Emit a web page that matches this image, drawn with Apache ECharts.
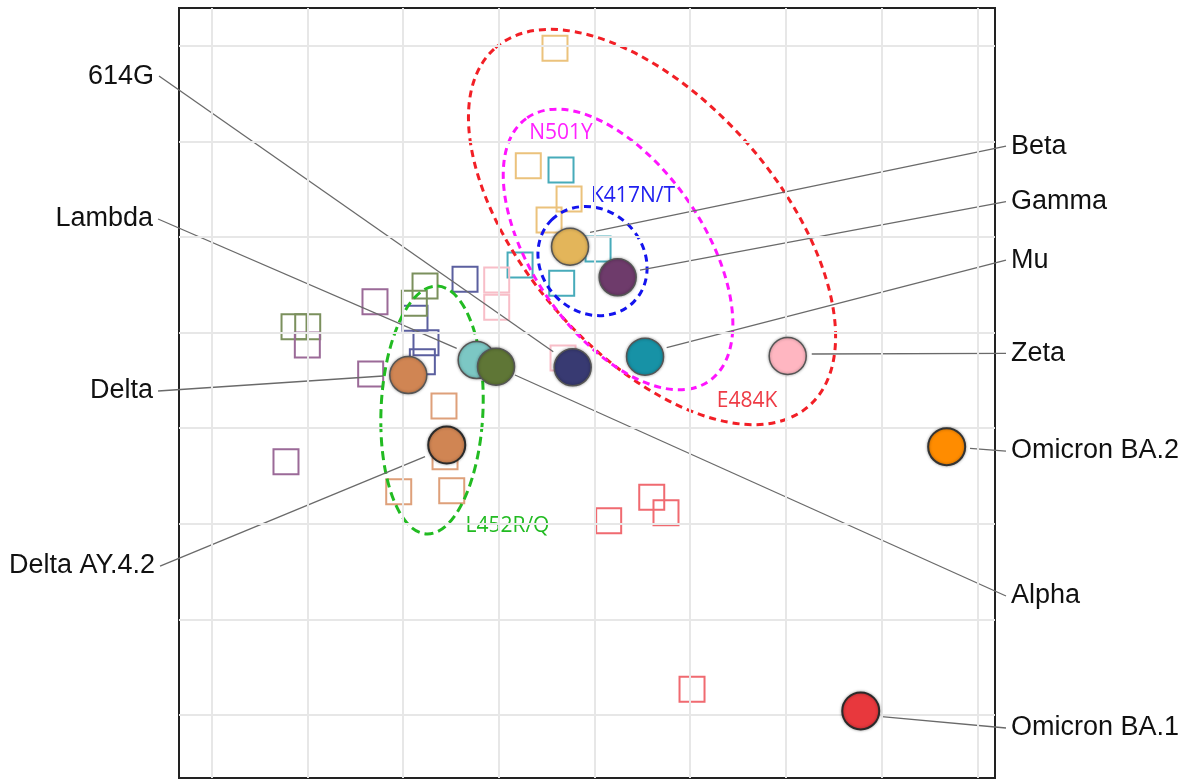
<!DOCTYPE html>
<html>
<head>
<meta charset="utf-8">
<title>Antigenic map</title>
<script src="https://cdn.jsdelivr.net/npm/echarts@6/dist/echarts.min.js"></script>
<style>
  html, body { margin: 0; padding: 0; background: #ffffff; }
  #chart { width: 1191px; height: 779px; }
</style>
</head>
<body>
<div id="chart"></div>
<script>
// ---- Antigen positions (map units, one grid square = 1 unit) ----
const antigenNames = ['Lambda', 'Alpha', '614G', 'Beta', 'Gamma', 'Mu', 'Zeta', 'Delta', 'Delta AY.4.2', 'Omicron BA.2', 'Omicron BA.1'];
const antigenX = [2.769, 2.971, 3.772, 3.744, 4.242, 4.528, 6.019, 2.054, 2.456, 7.680, 6.782];
const antigenY = [3.713, 3.643, 3.637, 4.898, 4.578, 3.748, 3.755, 3.556, 2.824, 2.806, 0.042];

// ---- Name labels: where each leader starts (label side) and ends (near the antigen) ----
const labelSide = ['left', 'right', 'left', 'right', 'right', 'right', 'right', 'left', 'left', 'right', 'right'];
const labelX = [-0.561, 8.300, -0.551, 8.300, 8.300, 8.300, 8.300, -0.561, -0.540, 8.300, 8.300];
const labelY = [5.188, 1.245, 6.683, 5.951, 5.369, 4.758, 3.783, 3.389, 1.558, 2.761, -0.136];
const leaderEndX = [2.560, 3.169, 3.569, 3.953, 4.475, 4.754, 6.270, 1.790, 2.229, 7.924, 7.001];
const leaderEndY = [3.835, 3.556, 3.800, 5.049, 4.654, 3.842, 3.776, 3.546, 2.702, 2.789, -0.018];

// ---- Serum positions, tagged with the antigen each serum was raised against ----
const seraGroup = [
  'Beta', 'Beta', 'Beta', 'Beta',
  'Mu', 'Mu', 'Mu', 'Mu',
  'Zeta', 'Zeta', 'Zeta',
  '614G', '614G', '614G', '614G',
  'Alpha', 'Alpha', 'Alpha', 'Alpha',
  'Gamma', 'Gamma', 'Gamma', 'Gamma',
  'Delta', 'Delta', 'Delta', 'Delta',
  'Omicron BA.1', 'Omicron BA.1', 'Omicron BA.1', 'Omicron BA.1'
];
const seraX = [
  3.587, 3.308, 3.734, 3.525,
  3.650, 4.037, 3.222, 3.657,
  2.978, 2.978, 3.671,
  2.647, 2.124, 2.239, 2.201,
  2.229, 2.117, 0.860, 1.003,
  1.706, 0.999, 1.661, 0.776,
  2.427, 2.438, 1.954, 2.508,
  4.598, 4.747, 4.148, 5.019
];
const seraY = [
  6.973, 5.745, 5.397, 5.177,
  5.700, 4.874, 4.707, 4.515,
  4.550, 4.264, 3.734,
  4.557, 4.149, 3.894, 3.695,
  4.487, 4.306, 4.061, 4.061,
  4.323, 3.870, 3.567, 2.649,
  3.232, 2.702, 2.336, 2.346,
  2.277, 2.116, 2.032, 0.269
];

// ---- Mutation clusters: ellipse centre, semi-axes (units) and tilt (deg, clockwise) ----
const clusterNames = ['E484K', 'N501Y', 'K417N/T', 'L452R/Q'];
const clusterCX = [4.601, 4.246, 3.979, 2.302];
const clusterCY = [5.104, 4.869, 4.748, 3.190];
const clusterRA = [2.487, 1.672, 0.606, 1.296];
const clusterRB = [1.327, 0.892, 0.533, 0.533];
const clusterTilt = [48.8, 55.4, 45, 92.5];
const clusterLabelX = [5.594, 3.650, 4.402, 3.090];
const clusterLabelY = [3.284, 6.087, 5.428, 1.977];

// ---- Grid line values ----
const gridLinesX = [0, 1, 2, 3, 4, 5, 6, 7, 8];
const gridLinesY = [0, 1, 2, 3, 4, 5, 6, 7];

// ---- Styles ----
const antigenFill = {
  'Lambda': '#7cc7c4', 'Alpha': '#5f7636', '614G': '#383a72', 'Beta': '#e3b55a',
  'Gamma': '#6e3b6b', 'Mu': '#1792a6', 'Zeta': '#ffb6c1', 'Delta': '#d08553',
  'Delta AY.4.2': '#d08553', 'Omicron BA.2': '#ff8c00', 'Omicron BA.1': '#e8383d'
};
const antigenBorder = {
  'Delta AY.4.2': '#2a2a2a', 'Omicron BA.2': '#333333', 'Omicron BA.1': '#2a2a2a'
};
const seraColor = {
  'Beta': '#ebc27c', 'Mu': '#47abba', 'Zeta': '#f8bec8', '614G': '#5b5f9f',
  'Alpha': '#7b905d', 'Gamma': '#9b6a98', 'Delta': '#dea07a', 'Omicron BA.1': '#f06a70'
};
const clusterStroke = ['#f21f26', '#ff14ff', '#1414ee', '#22bb22'];
const clusterText = ['#ee3b45', '#ff22ff', '#2020f0', '#22bb22'];
const clusterDash = [[7, 5], [7, 5], [7, 5], [9, 5]];

const chart = echarts.init(document.getElementById('chart'), null, { renderer: 'canvas' });

const gridMarks = gridLinesX.map(v => ({ xAxis: v })).concat(gridLinesY.map(v => ({ yAxis: v })));

const seraData = seraX.map((x, i) => ({
  value: [x, seraY[i]],
  itemStyle: { color: 'rgba(0,0,0,0)', borderColor: seraColor[seraGroup[i]], borderWidth: 2, opacity: 1 }
}));

const antigenData = antigenNames.map((n, i) => ({
  name: n,
  value: [antigenX[i], antigenY[i]],
  itemStyle: {
    color: antigenFill[n],
    borderColor: antigenBorder[n] || '#555555',
    borderWidth: antigenBorder[n] ? 2 : 1.5,
    opacity: 1,
    shadowBlur: 3,
    shadowColor: 'rgba(0,0,0,0.35)'
  }
}));

const leaderData = antigenNames.map((n, i) => ({
  coords: [[labelX[i], labelY[i]], [leaderEndX[i], leaderEndY[i]]]
}));

const labelData = antigenNames.map((n, i) => ({
  name: n,
  value: [labelX[i], labelY[i]],
  label: {
    position: labelSide[i],
    distance: 5
  }
}));

const clusterData = clusterNames.map((n, i) => [clusterCX[i], clusterCY[i], clusterRA[i], clusterRB[i], clusterTilt[i]]);

const clusterLabelData = clusterNames.map((n, i) => ({
  name: n,
  value: [clusterLabelX[i], clusterLabelY[i]],
  label: { color: clusterText[i] }
}));

const option = {
  backgroundColor: '#ffffff',
  animation: false,
  grid: {
    left: 179, right: 196, top: 8, bottom: 1,
    show: true, borderColor: '#222222', borderWidth: 2, backgroundColor: 'rgba(0,0,0,0)'
  },
  xAxis: { type: 'value', min: -0.342, max: 8.185, show: false },
  yAxis: { type: 'value', min: -0.659, max: 7.395, show: false },
  series: [
    {
      // background grid
      type: 'scatter',
      data: [],
      z: 1,
      markLine: {
        silent: true,
        symbol: ['none', 'none'],
        label: { show: false },
        lineStyle: { color: '#e7e7e7', width: 2, type: 'solid', opacity: 1 },
        data: gridMarks
      }
    },
    {
      // sera
      type: 'scatter',
      symbol: 'rect',
      symbolSize: 25,
      z: 2,
      itemStyle: { opacity: 1 },
      data: seraData
    },
    {
      // mutation clusters
      type: 'custom',
      z: 3,
      data: clusterData,
      renderItem: function (params, api) {
        const c = api.coord([api.value(0), api.value(1)]);
        const rx = api.size([api.value(2), 0])[0];
        const ry = api.size([0, api.value(3)])[1];
        const i = params.dataIndex;
        return {
          type: 'ellipse',
          x: c[0],
          y: c[1],
          rotation: -api.value(4) * Math.PI / 180,
          shape: { cx: 0, cy: 0, rx: rx, ry: ry },
          style: {
            fill: null,
            stroke: clusterStroke[i],
            lineWidth: 3,
            lineDash: clusterDash[i]
          }
        };
      }
    },
    {
      // cluster names
      type: 'scatter',
      symbolSize: 0,
      z: 3,
      itemStyle: { opacity: 1 },
      data: clusterLabelData,
      label: {
        show: true,
        position: 'inside',
        formatter: '{b}',
        opacity: 1,
        fontFamily: '"Open Sans", sans-serif',
        fontSize: 21
      }
    },
    {
      // leader lines
      type: 'lines',
      coordinateSystem: 'cartesian2d',
      clip: false,
      z: 4,
      silent: true,
      lineStyle: { color: '#6a6a6a', width: 1.3, opacity: 1 },
      data: leaderData
    },
    {
      // antigens
      type: 'scatter',
      symbol: 'circle',
      symbolSize: 37,
      z: 5,
      itemStyle: { opacity: 1 },
      data: antigenData
    },
    {
      // antigen names
      type: 'scatter',
      symbolSize: 0,
      clip: false,
      z: 6,
      itemStyle: { opacity: 1 },
      data: labelData,
      label: {
        show: true,
        formatter: '{b}',
        color: '#111111',
        opacity: 1,
        fontFamily: '"Liberation Sans", Arial, sans-serif',
        fontSize: 27
      }
    }
  ]
};

chart.setOption(option);
</script>
</body>
</html>
